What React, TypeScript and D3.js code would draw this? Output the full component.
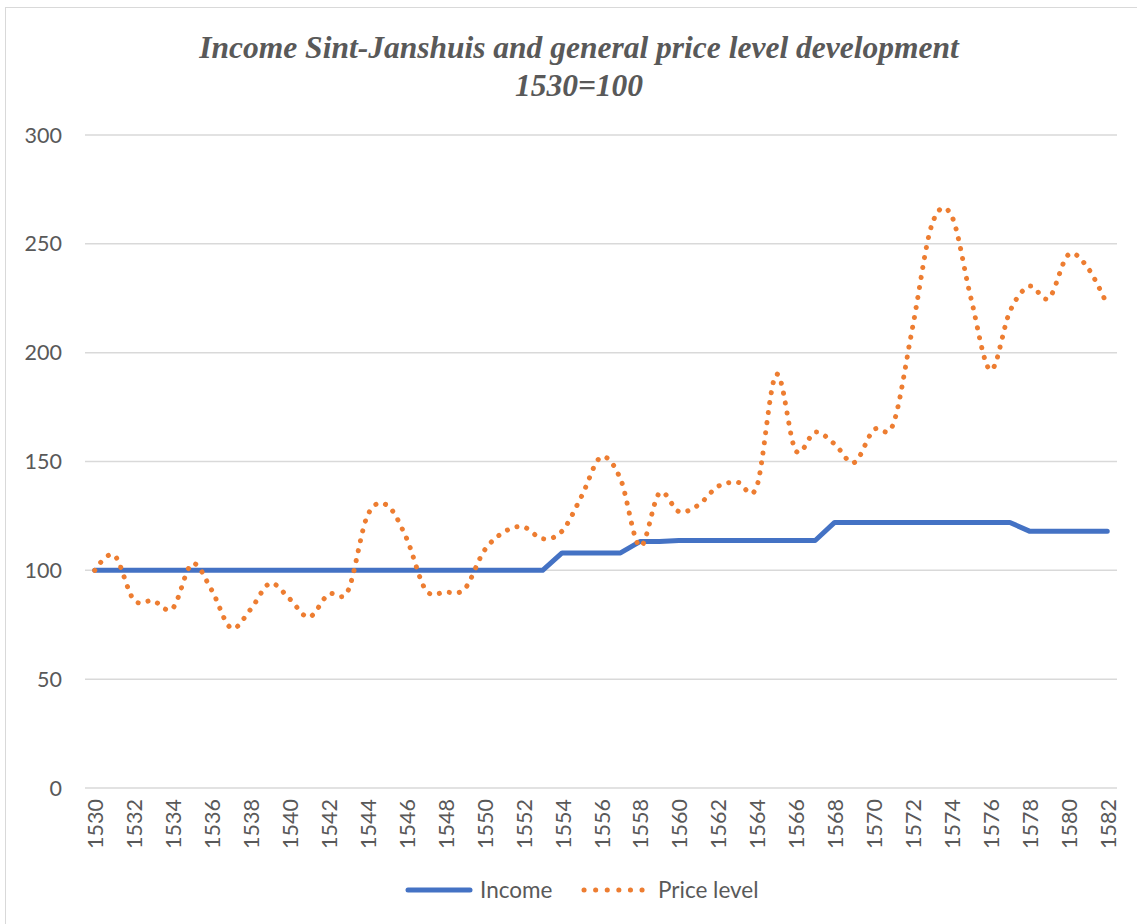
import React, { useEffect, useRef } from "react";
import * as d3 from "d3";

// years 1530..1582
const years: number[] = d3.range(1530, 1583);

const income: number[] = [
	100, 100, 100, 100, 100, 100, 100, 100, 100, 100,
	100, 100, 100, 100, 100, 100, 100, 100, 100, 100,
	100, 100, 100, 100, 108, 108, 108, 108, 113.2, 113.3,
	113.7, 113.7, 113.7, 113.7, 113.7, 113.7, 113.7, 113.7, 122, 122,
	122, 122, 122, 122, 122, 122, 122, 122, 118, 118,
	118, 118, 118,
];

const priceLevel: number[] = [
	100, 107, 86.5, 86, 82.5, 103, 91, 73.5, 82, 94,
	87, 78.5, 89, 90.5, 125, 130, 115, 91, 90, 91.5,
	109, 117.5, 120, 114.5, 118, 134, 152, 142, 111, 135.5,
	127, 130, 138.5, 140.5, 138.5, 190, 155, 163.5, 158, 149.5,
	164.5, 167, 211.5, 259, 263, 225, 192, 219, 230.5, 225,
	245, 239, 222,
];

const yTicks: number[] = [0, 50, 100, 150, 200, 250, 300];
const xLabels: number[] = years.filter((y) => (y - 1530) % 2 === 0);

const seriesNames = ["Income", "Price level"];

const App = () => {
	const svgRef = useRef<SVGSVGElement>(null);

	useEffect(() => {
		const width = 1137;
		const height = 924;
		const svg = d3.select(svgRef.current);
		svg.selectAll("*").remove();
		svg.attr("width", width).attr("height", height);

		const font = "Lato, 'Open Sans', sans-serif";
		const grey = "#595959";

		// chart border
		svg
			.append("rect")
			.attr("x", 5.5)
			.attr("y", 7.5)
			.attr("width", width - 4)
			.attr("height", height - 5)
			.attr("fill", "#fff")
			.attr("stroke", "#d9d9d9")
			.attr("stroke-width", 1);

		// title
		const title = svg
			.append("text")
			.attr("text-anchor", "middle")
			.attr("fill", grey)
			.style("font-family", "'Liberation Serif', 'Times New Roman', serif")
			.style("font-style", "italic")
			.style("font-weight", "700")
			.style("font-size", "31.5px");
		title.append("tspan").attr("x", 579).attr("y", 58).text("Income Sint-Janshuis and general price level development");
		title.append("tspan").attr("x", 579).attr("y", 96).text("1530=100");

		const left = 85;
		const right = 1117;
		const top = 135;
		const bottom = 788;

		const x = d3
			.scalePoint<number>()
			.domain(years)
			.range([left, right])
			.padding(0.5);

		const y = d3.scaleLinear().domain([0, 300]).range([bottom, top]);

		// gridlines
		svg
			.append("g")
			.selectAll("line")
			.data(yTicks)
			.enter()
			.append("line")
			.attr("x1", left)
			.attr("x2", right)
			.attr("y1", (d) => y(d))
			.attr("y2", (d) => y(d))
			.attr("stroke", "#d9d9d9")
			.attr("stroke-width", 1.5);

		// y labels
		svg
			.append("g")
			.selectAll("text")
			.data(yTicks)
			.enter()
			.append("text")
			.attr("x", 62)
			.attr("y", (d) => y(d))
			.attr("dy", "0.35em")
			.attr("text-anchor", "end")
			.attr("fill", grey)
			.style("font-family", font)
			.style("font-size", "21.5px")
			.text((d) => d);

		// x labels (rotated)
		svg
			.append("g")
			.selectAll("text")
			.data(xLabels)
			.enter()
			.append("text")
			.attr("transform", (d) => `translate(${x(d)! + 1},${bottom + 11}) rotate(-90)`)
			.attr("text-anchor", "end")
			.attr("dy", "0.35em")
			.attr("fill", grey)
			.style("font-family", font)
			.style("font-size", "21.5px")
			.text((d) => d);

		// income line
		const incomeLine = d3
			.line<number>()
			.x((_, i) => x(years[i])!)
			.y((d) => y(d));

		svg
			.append("path")
			.datum(income)
			.attr("d", incomeLine)
			.attr("fill", "none")
			.attr("stroke", "#4472C4")
			.attr("stroke-width", 5)
			.attr("stroke-linejoin", "round")
			.attr("stroke-linecap", "round");

		// price level, smoothed dotted
		const priceLine = d3
			.line<number>()
			.x((_, i) => x(years[i])!)
			.y((d) => y(d))
			.curve(d3.curveCatmullRom.alpha(0));

		svg
			.append("path")
			.datum(priceLevel)
			.attr("d", priceLine)
			.attr("fill", "none")
			.attr("stroke", "#ED7D31")
			.attr("stroke-width", 5)
			.attr("stroke-dasharray", "0.1 10")
			.attr("stroke-linecap", "round");

		// legend
		const legend = svg.append("g");
		legend
			.append("line")
			.attr("x1", 408)
			.attr("x2", 470)
			.attr("y1", 890)
			.attr("y2", 890)
			.attr("stroke", "#4472C4")
			.attr("stroke-width", 5)
			.attr("stroke-linecap", "round");
		legend
			.append("text")
			.attr("x", 480)
			.attr("y", 890)
			.attr("dy", "0.35em")
			.attr("fill", grey)
			.style("font-family", font)
			.style("font-size", "22.5px")
			.text(seriesNames[0]);
		legend
			.append("line")
			.attr("x1", 584)
			.attr("x2", 648)
			.attr("y1", 890)
			.attr("y2", 890)
			.attr("stroke", "#ED7D31")
			.attr("stroke-width", 5)
			.attr("stroke-dasharray", "0.1 11.5")
			.attr("stroke-linecap", "round");
		legend
			.append("text")
			.attr("x", 658)
			.attr("y", 890)
			.attr("dy", "0.35em")
			.attr("fill", grey)
			.style("font-family", font)
			.style("font-size", "22.5px")
			.text(seriesNames[1]);
	}, []);

	return (
		<div style={{ position: "absolute", left: 0, top: 0 }}>
			<svg ref={svgRef} style={{ display: "block" }}></svg>
		</div>
	);
};

export default App;
